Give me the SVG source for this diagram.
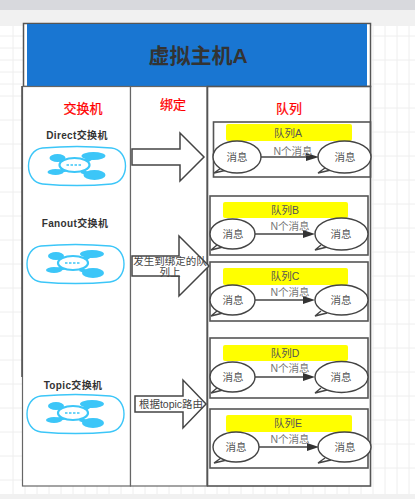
<svg xmlns="http://www.w3.org/2000/svg" width="415" height="499" viewBox="0 0 415 499">
<style>
text{font-family:"Liberation Sans","Noto Sans CJK SC",sans-serif;text-anchor:middle;fill:#333}
.box{fill:#fff;stroke:#555;stroke-width:1.5}
.q{fill:none;stroke:#555;stroke-width:1.6}
.y{fill:#ff0;stroke:none}
.ql{font-size:10.5px;fill:#555}
.bub{fill:#fff;stroke:#444;stroke-width:1.4}
.m{font-size:10.5px;fill:#555}
.ln{stroke:#444;stroke-width:1.4;fill:none}
.head{fill:#333}
.nl{font-size:10.5px;fill:#777}
.ar{fill:#fff;stroke:#444;stroke-width:1.5}
.red{fill:#f00;font-size:13px;stroke:#f00;stroke-width:.25}
.ex{font-size:10px;font-weight:bold;fill:#333;letter-spacing:.35px}
.hub{fill:#3cc6f8}
.shell{fill:#fff;stroke:#3cc6f8;stroke-width:1.4}
.al{font-size:10.5px;fill:#444}
.g{stroke:#eee;stroke-width:1}
</style>
<defs>
<g id="icon">
<path class="shell" d="M14 -18C36 -20 61 -20 83 -18C92 -17 97 -9 97 0C97 9 92 17 83 18C61 20 36 20 14 18C5 17 0 9 0 0C0 -9 5 -17 14 -18Z"/>
<path class="hub" d="M30 -10L41 -5L38 -2L27 -6ZM54 -5L62 -12L66 -8L56 -1ZM54 4L64 7L62 11L52 7ZM38 2L28 4L28 8L40 5Z"/>
<ellipse class="hub" cx="29" cy="-8" rx="8" ry="4"/>
<ellipse class="hub" cx="65" cy="-10" rx="12" ry="4"/>
<ellipse class="hub" cx="27" cy="6" rx="8" ry="3"/>
<ellipse class="hub" cx="66" cy="9" rx="11" ry="5"/>
<ellipse cx="46" cy="-1" rx="15" ry="7" fill="#fff" stroke="#3cc6f8" stroke-width="2.2"/>
<path d="M38 -1H54" stroke="#3cc6f8" stroke-width="1.5" stroke-dasharray="2.500 1.500" fill="none"/>
</g>
</defs>
<g id="canvas">
<rect width="415" height="499" fill="#fff"/>
<path class="g" d="M13 25V494M25 25V494M37 486V494M49 486V494M61 486V494M73 486V494M85 486V494M97 486V494M109 486V494M121 486V494M133 486V494M145 486V494M157 486V494M169 486V494M181 486V494M193 486V494M205 486V494M217 486V494M229 486V494M241 486V494M253 486V494M265 486V494M277 486V494M289 486V494M301 486V494M313 486V494M325 486V494M337 486V494M349 486V494M361 486V494M373 25V494M385 25V494M397 25V494M409 25V494M0 36H23M0 48H23M0 60H23M0 72H23M0 84H23M0 96H23M0 120H23M0 144H23M0 168H23M0 192H23M0 216H23M0 240H23M0 264H23M0 288H23M0 312H23M0 336H23M0 360H23M0 384H23M0 408H23M0 432H23M0 456H23M0 480H23M372 36H415M372 60H415M372 84H415M372 108H415M372 132H415M372 156H415M372 180H415M372 204H415M372 228H415M372 252H415M372 276H415M372 300H415M372 324H415M372 348H415M372 372H415M372 396H415M372 420H415M372 444H415M372 468H415"/>
<rect width="415" height="10" fill="#d8d9dd"/>
<rect y="10" width="415" height="16" fill="#f1f1f1"/>
<rect y="494" width="415" height="5" fill="#f1f1f1"/>
</g>
<g id="host">
<rect x="23.500" y="23.500" width="347" height="63" fill="#fff" stroke="#555" stroke-width="1.5"/>
<rect x="27" y="24" width="340" height="62" fill="#1976d2"/>
<text x="198" y="63" font-size="21" font-weight="bold">虚拟主机A</text>
</g>
<g id="col-exchange">
<rect x="22.500" y="86.500" width="108" height="399.500" fill="#fff" stroke="#666" stroke-width="1.2"/>
<path d="M22 86V377" stroke="#555" stroke-width="1.6"/>
<text class="red" x="83" y="113">交换机</text>
</g>
<g id="col-binding">
<rect x="130.500" y="86.500" width="76.500" height="399.500" fill="#fff" stroke="#666" stroke-width="1.2"/>
<text class="red" x="173" y="109">绑定</text>
</g>
<g id="col-queue">
<rect x="207.500" y="86.500" width="163" height="399.500" fill="#fff" stroke="#555" stroke-width="1.6"/>
<text class="red" x="289" y="113">队列</text>
</g>
<g id="ex-direct"><text class="ex" x="77" y="139">Direct交换机</text><use href="#icon" x="28.500" y="166"/></g>
<g id="ex-fanout"><text class="ex" x="75" y="227">Fanout交换机</text><use href="#icon" x="27" y="264"/></g>
<g id="ex-topic"><text class="ex" x="73" y="389">Topic交换机</text><use href="#icon" x="27" y="414"/></g>
<g id="connectors">
<path class="ar" d="M132 149H180V133L204 157L180 181V165H132Z"/>
<path class="ar" d="M132 256H179V236L209 266L179 296V276H132Z"/>
<path class="ar" d="M135 396H183V380L206 404L183 428V412H135Z"/>
</g>
<g id="binding-labels">
<text class="al" x="170" y="265">发生到绑定的队</text>
<text class="al" x="170" y="276">列上</text>
<text class="al" x="171" y="408">根据topic路由</text>
</g>
<g id="queue-a">
<rect class="q" x="213.500" y="122" width="157" height="55"/>
<rect class="y" x="226" y="124" width="126" height="17" rx="2"/>
<text class="ql" x="288" y="137">队列A</text>
<path class="bub" d="M221 168L214 173L227 170"/><ellipse class="bub" cx="237" cy="157" rx="24" ry="16"/>
<path class="bub" d="M325 168L318 173L331 170"/><ellipse class="bub" cx="344.500" cy="157" rx="26.500" ry="16"/>
<text class="m" x="237" y="161">消息</text><text class="m" x="345" y="161">消息</text>
<path class="ln" d="M261 157H308"/><path class="head" d="M306 153L319 157L306 161Z"/>
<text class="nl" x="293" y="155">N个消息</text>
</g>
<g id="queue-b">
<rect class="q" x="210" y="196" width="158" height="59"/>
<rect class="y" x="223" y="202" width="125" height="16" rx="2"/>
<text class="ql" x="285" y="214">队列B</text>
<path class="bub" d="M217 245L211 250L223 247"/><ellipse class="bub" cx="232.500" cy="234" rx="22.500" ry="15"/>
<path class="bub" d="M321 245L315 250L327 247"/><ellipse class="bub" cx="341.500" cy="234" rx="26.500" ry="16"/>
<text class="m" x="233" y="238">消息</text><text class="m" x="341" y="238">消息</text>
<path class="ln" d="M255 234H304"/><path class="head" d="M303 230L315 234L303 238Z"/>
<text class="nl" x="290" y="230">N个消息</text>
</g>
<g id="queue-c">
<rect class="q" x="210" y="262" width="158" height="59"/>
<rect class="y" x="223" y="268" width="125" height="17" rx="2"/>
<text class="ql" x="285" y="280">队列C</text>
<path class="bub" d="M217 311L211 316L223 313"/><ellipse class="bub" cx="232.500" cy="300" rx="22.500" ry="15"/>
<path class="bub" d="M321 311L315 316L327 313"/><ellipse class="bub" cx="341.500" cy="300" rx="26.500" ry="15"/>
<text class="m" x="233" y="304">消息</text><text class="m" x="341" y="304">消息</text>
<path class="ln" d="M255 300H304"/><path class="head" d="M303 296L315 300L303 304Z"/>
<text class="nl" x="290" y="296">N个消息</text>
</g>
<g id="queue-d">
<rect class="q" x="210" y="338" width="158" height="60"/>
<rect class="y" x="223" y="345" width="125" height="16" rx="2"/>
<text class="ql" x="285" y="357">队列D</text>
<path class="bub" d="M217 388L211 393L223 390"/><ellipse class="bub" cx="232.500" cy="377" rx="22.500" ry="15"/>
<path class="bub" d="M321 388L315 393L327 390"/><ellipse class="bub" cx="341.500" cy="377" rx="26.500" ry="15.500"/>
<text class="m" x="233" y="381">消息</text><text class="m" x="341" y="381">消息</text>
<path class="ln" d="M255 377H304"/><path class="head" d="M303 373L315 377L303 381Z"/>
<text class="nl" x="290" y="372">N个消息</text>
</g>
<g id="queue-e">
<rect class="q" x="210" y="409" width="158" height="59"/>
<rect class="y" x="226" y="415" width="126" height="17" rx="2"/>
<text class="ql" x="288" y="427">队列E</text>
<path class="bub" d="M221 458L214 463L227 460"/><ellipse class="bub" cx="236" cy="447" rx="23" ry="15"/>
<path class="bub" d="M325 458L318 463L331 460"/><ellipse class="bub" cx="344.500" cy="447" rx="26.500" ry="15"/>
<text class="m" x="236" y="451">消息</text><text class="m" x="345" y="451">消息</text>
<path class="ln" d="M259 447H308"/><path class="head" d="M307 443L319 447L307 451Z"/>
<text class="nl" x="290" y="443">N个消息</text>
</g>
</svg>
